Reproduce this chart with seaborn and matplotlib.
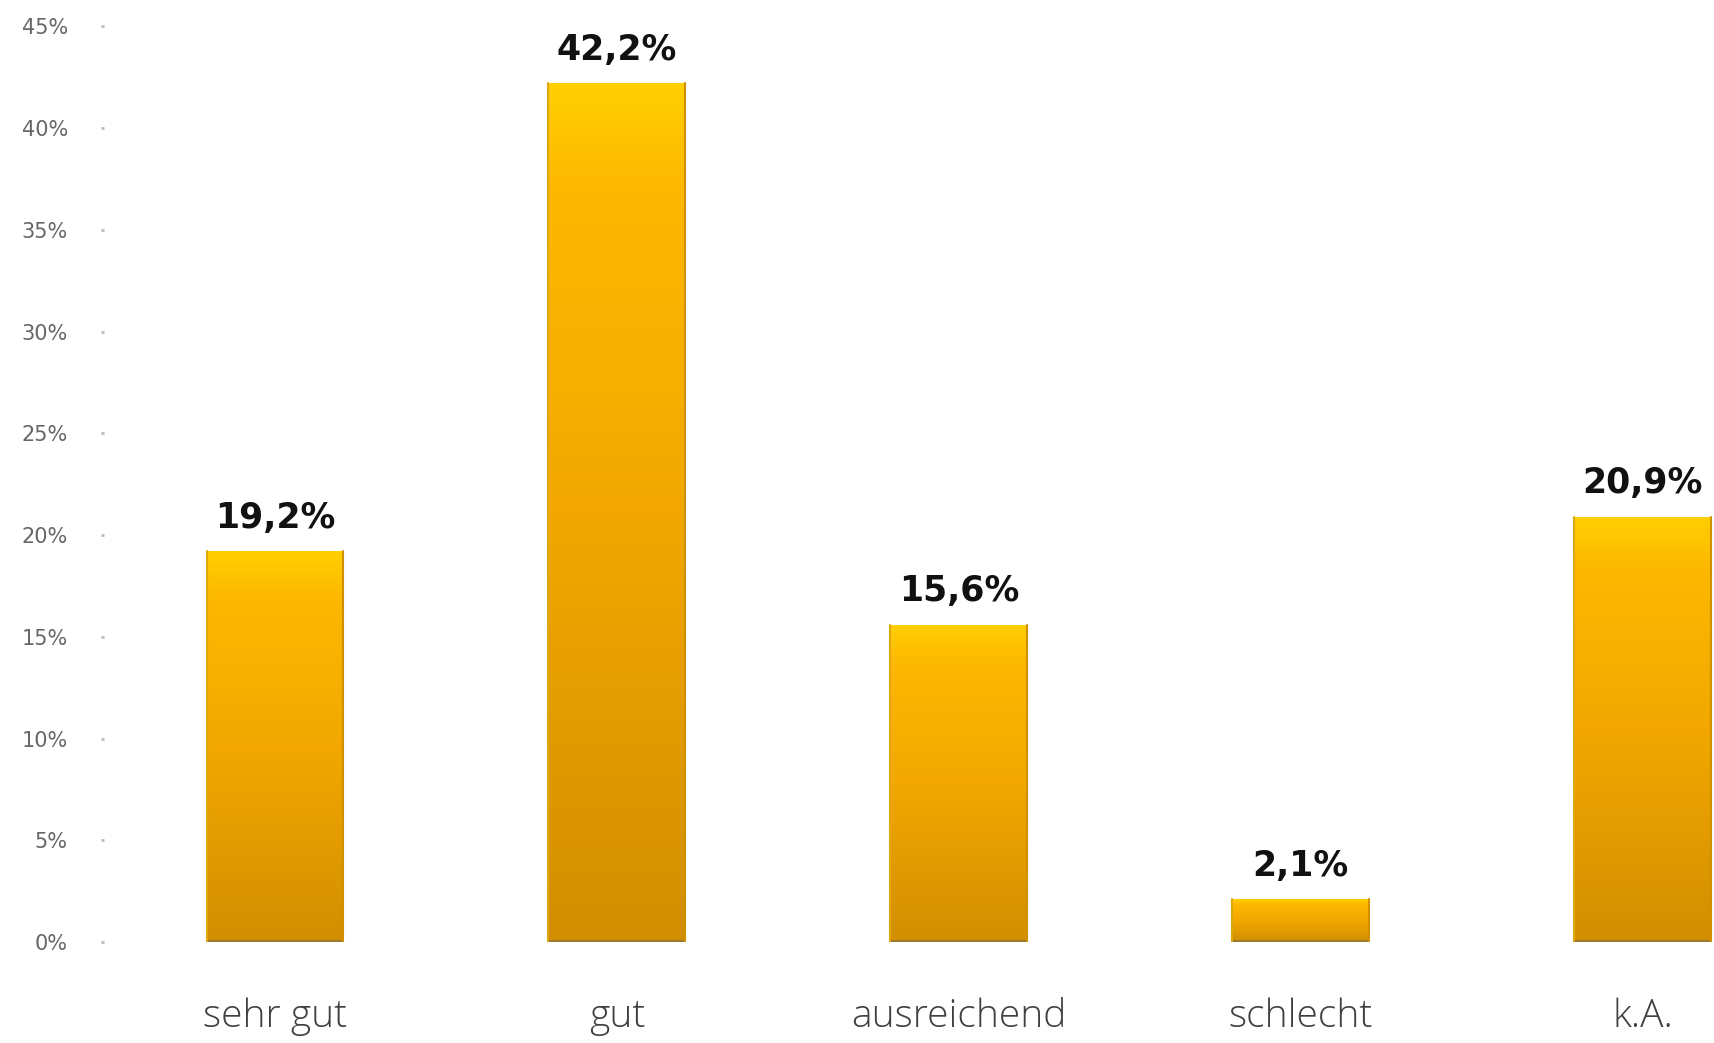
import numpy as np
import pandas as pd
import matplotlib
matplotlib.use("Agg")
import matplotlib.pyplot as plt
from matplotlib.colors import LinearSegmentedColormap
import seaborn as sns

# Bewertung (Anteile in Prozent)
kategorien = ["sehr gut", "gut", "ausreichend", "schlecht", "k.A."]
anteile = [19.2, 42.2, 15.6, 2.1, 20.9]
y_ticks = [0, 5, 10, 15, 20, 25, 30, 35, 40, 45]

df = pd.DataFrame({"kategorie": kategorien, "anteil": anteile})

sns.set_style("white")
fig = plt.figure(figsize=(17.15, 10.43), dpi=100)
ax = fig.add_axes([0.0606, 0.0968, 0.997, 0.878])

sns.barplot(data=df, x="kategorie", y="anteil", ax=ax, width=0.40,
            color="#F5AA00", edgecolor="none", saturation=1)

# Farbverlauf in den Balken
cmap = LinearSegmentedColormap.from_list(
    "gold", [(0.0, "#FFCF00"), (0.12, "#FDB800"), (0.5, "#F2A800"), (1.0, "#D28E00")])
grad = np.linspace(0, 1, 256).reshape(-1, 1)
for p in ax.patches:
    x0, y0 = p.get_x(), p.get_y()
    w, h = p.get_width(), p.get_height()
    im = ax.imshow(grad, cmap=cmap, aspect="auto", origin="upper",
                   extent=[x0, x0 + w, y0, y0 + h], zorder=2)
    im.set_clip_path(p)
    ax.plot([x0, x0 + w], [0, 0], color="#9C7A2E", lw=3, zorder=3,
            solid_capstyle="butt")
    ax.plot([x0 + w, x0 + w], [0, h], color="#D09000", lw=1.5, zorder=3)
    ax.plot([x0, x0], [0, h], color="#E0A810", lw=1.5, zorder=3)

for p, v in zip(ax.patches, anteile):
    ax.annotate(f"{v:.1f}%".replace(".", ","),
                (p.get_x() + p.get_width() / 2, p.get_height()),
                xytext=(0, 12), textcoords="offset points",
                ha="center", va="bottom", fontsize=25, fontweight="bold",
                color="#111111", zorder=4)

ax.set_xlim(-0.5, 4.5)
ax.set_ylim(0, 45)
ax.set_yticks(y_ticks)
ax.set_yticklabels([f"{t}%" for t in y_ticks])
ax.tick_params(axis="y", length=2, width=2, color="#BBBBBB", pad=24,
               labelsize=15, labelcolor="#666666", direction="out", left=True)
ax.tick_params(axis="x", length=0, pad=40, labelsize=28, labelcolor="#404040")
for lbl in ax.get_xticklabels():
    lbl.set_family("Open Sans")
    lbl.set_fontweight("light")
ax.set_xlabel("")
ax.set_ylabel("")
sns.despine(ax=ax, left=True, bottom=True)

fig.savefig("out.png", dpi=100)
